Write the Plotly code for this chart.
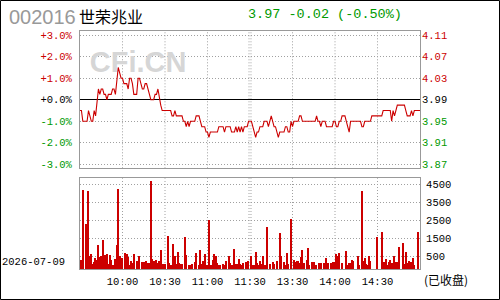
import plotly.graph_objects as go

PREV_CLOSE = 3.99
TITLE_CODE = "002016"
TITLE_NAME = "世荣兆业"
HEADER_QUOTE = "3.97 -0.02 (-0.50%)"
DATE_LABEL = "2026-07-09"
STATUS_LABEL = "(已收盘)"
WATERMARK = "CFi.CN"

# per-minute price (minute 0 .. 240)
PRICES = [
    3.97, 3.97, 3.95, 3.95, 3.95, 3.95, 3.97, 3.96, 3.95, 3.95,
    3.97, 3.96, 3.98, 4.01, 4.00, 4.01, 4.01, 4.00, 4.00, 3.99,
    4.00, 4.00, 4.00, 4.01, 4.01, 4.00, 4.03, 4.05, 4.04, 4.03,
    4.03, 4.02, 4.02, 4.02, 4.01, 4.03, 4.03, 4.02, 4.00, 4.00,
    4.00, 4.03, 4.03, 4.02, 4.01, 4.01, 4.02, 4.02, 4.01, 4.00,
    3.99, 3.99, 3.99, 4.00, 4.00, 4.01, 3.99, 3.98, 3.97, 3.97,
    3.97, 3.97, 3.97, 3.97, 3.97, 3.96, 3.96, 3.97, 3.96, 3.96,
    3.96, 3.96, 3.96, 3.95, 3.95, 3.94, 3.95, 3.94, 3.95, 3.95,
    3.95, 3.95, 3.96, 3.96, 3.96, 3.95, 3.94, 3.94, 3.94, 3.93,
    3.93, 3.92, 3.93, 3.93, 3.93, 3.93, 3.93, 3.93, 3.94, 3.94,
    3.94, 3.94, 3.93, 3.94, 3.94, 3.94, 3.94, 3.93, 3.93, 3.93,
    3.94, 3.93, 3.94, 3.93, 3.94, 3.93, 3.94, 3.94, 3.94, 3.95,
    3.95, 3.95, 3.94, 3.93, 3.92, 3.93, 3.93, 3.94, 3.94, 3.94,
    3.95, 3.95, 3.95, 3.94, 3.95, 3.96, 3.95, 3.94, 3.94, 3.93,
    3.92, 3.93, 3.93, 3.93, 3.93, 3.94, 3.94, 3.93, 3.93, 3.95,
    3.94, 3.95, 3.95, 3.95, 3.95, 3.96, 3.96, 3.95, 3.95, 3.95,
    3.95, 3.95, 3.95, 3.95, 3.95, 3.95, 3.95, 3.96, 3.95, 3.95,
    3.94, 3.95, 3.95, 3.95, 3.94, 3.94, 3.94, 3.94, 3.94, 3.95,
    3.95, 3.94, 3.94, 3.95, 3.95, 3.96, 3.96, 3.96, 3.95, 3.94,
    3.93, 3.95, 3.95, 3.95, 3.95, 3.95, 3.95, 3.95, 3.95, 3.94,
    3.94, 3.95, 3.95, 3.95, 3.95, 3.95, 3.96, 3.96, 3.96, 3.96,
    3.96, 3.96, 3.96, 3.96, 3.97, 3.97, 3.97, 3.97, 3.97, 3.97,
    3.95, 3.97, 3.96, 3.97, 3.98, 3.98, 3.98, 3.98, 3.98, 3.98,
    3.97, 3.96, 3.96, 3.96, 3.97, 3.96, 3.97, 3.97, 3.97, 3.97, 3.97,
]

# per-minute volume (minute 0 .. 240), 0 = no bar
VOLUME = [
    0, 300, 4190, 0, 2300, 0, 4130, 520, 630, 70,
    150, 390, 300, 1130, 430, 520, 1410, 110, 570, 610,
    70, 570, 300, 20, 20, 330, 1130, 4240, 480, 240,
    390, 0, 690, 630, 430, 20, 200, 110, 610, 0,
    240, 0, 520, 0, 170, 170, 110, 240, 110, 110,
    4650, 350, 240, 0, 300, 110, 240, 850, 0, 70,
    70, 0, 1630, 110, 20, 20, 1190, 480, 60, 720,
    110, 60, 60, 0, 1570, 570, 0, 20, 20, 60,
    0, 170, 690, 0, 20, 850, 70, 240, 610, 20,
    20, 2500, 20, 20, 280, 610, 480, 110, 20, 20,
    0, 60, 20, 240, 0, 480, 110, 20, 20, 910,
    60, 60, 350, 60, 20, 110, 0, 170, 20, 240,
    0, 480, 20, 20, 720, 110, 20, 240, 60, 520,
    0, 20, 2090, 0, 60, 0, 170, 60, 0, 240,
    0, 1780, 520, 0, 170, 20, 670, 60, 0, 2580,
    0, 300, 170, 240, 240, 110, 430, 850, 110, 0,
    300, 950, 20, 0, 170, 170, 0, 20, 0, 110,
    110, 0, 110, 20, 390, 110, 0, 110, 60, 170,
    170, 610, 520, 670, 0, 110, 0, 0, 800, 20,
    110, 110, 300, 240, 0, 0, 480, 20, 0, 4130,
    240, 390, 70, 20, 520, 240, 0, 0, 0, 0,
    1570, 0, 0, 1830, 0, 170, 350, 20, 170, 300,
    110, 110, 520, 170, 170, 1020, 0, 0, 1220, 60,
    720, 110, 240, 170, 170, 390, 20, 0, 0, 1830,
    0,
]

TIME_TICKS = [30, 60, 90, 120, 150, 180, 210]
TIME_LABELS = ["10:00", "10:30", "11:00", "11:30", "13:30", "14:00", "14:30"]
GRID_MINUTES = [30, 60, 90, 119.3, 120.7, 150, 180, 210]
PCT_TICKS = [3, 2, 1, 0, -1, -2, -3]
PCT_LABELS = ["+3.0%", "+2.0%", "+1.0%", "+0.0%", "-1.0%", "-2.0%", "-3.0%"]
PRICE_LABELS = ["4.11", "4.07", "4.03", "3.99", "3.95", "3.91", "3.87"]
VOL_TICKS = [500, 1500, 2500, 3500, 4500]
VOL_LABELS = ["500", "1500", "2500", "3500", "4500"]

RED = "#cc0000"
GREEN = "#009900"
GRID = "#a0a0a0"
FRAME = "#999999"
MONO = "Liberation Mono"

PCT_RANGE = [-3.19, 3.2]
VOL_RANGE = [-206, 4833]
VOL_BASE = VOL_RANGE[0]


def tick_color(p):
    return RED if p > 0 else (GREEN if p < 0 else "#000000")


minutes = list(range(len(PRICES)))
pct = [(p / PREV_CLOSE - 1) * 100 for p in PRICES]
bar_x = [m for m, v in enumerate(VOLUME) if v > 0]
bar_y = [v - VOL_BASE for v in VOLUME if v > 0]

fig = go.Figure()
# watermark (below line)
fig.add_trace(go.Scatter(x=[41], y=[1.61], mode="text", text=[WATERMARK],
                         textfont=dict(family="Liberation Sans", size=29, color="#d6d6d6", weight="bold"),
                         xaxis="x", yaxis="y", hoverinfo="skip", showlegend=False))
fig.add_trace(go.Scatter(x=minutes, y=pct, mode="lines", line=dict(color="rgba(0,0,0,0)", width=0),
                         xaxis="x", yaxis="y", hoverinfo="skip", showlegend=False))
fig.add_trace(go.Scatter(x=minutes, y=PRICES, mode="lines", line=dict(color=RED, width=1.1),
                         xaxis="x", yaxis="y2", showlegend=False))
fig.add_trace(go.Bar(x=bar_x, y=bar_y, base=VOL_BASE, width=0.85, marker=dict(color=RED, line=dict(width=0)),
                     xaxis="x2", yaxis="y3", showlegend=False))

price_range = [PREV_CLOSE * (1 + r / 100) for r in PCT_RANGE]
price_ticks = [PREV_CLOSE * (1 + p / 100) for p in PCT_TICKS]

axis_common = dict(showline=True, mirror=True, linecolor=FRAME, linewidth=1, ticks="",
                   griddash="1px,2px", gridcolor=GRID, gridwidth=1)

fig.update_layout(
    width=500, height=300,
    margin=dict(l=80, r=80, t=31, b=31),
    paper_bgcolor="white", plot_bgcolor="white",
    bargap=0,
    xaxis=dict(domain=[0, 1], range=[0, 240], showticklabels=False, showgrid=False,
               anchor="y", zeroline=False, **axis_common),
    yaxis=dict(domain=[0.4231, 1], range=PCT_RANGE, tickvals=PCT_TICKS,
               ticktext=[f"<span style='color:{tick_color(p)}'>{t}</span>" for p, t in zip(PCT_TICKS, PCT_LABELS)],
               tickfont=dict(family=MONO, size=10.5), showgrid=True, zeroline=True,
               zerolinecolor="#000000", zerolinewidth=1.2, anchor="x", ticklabelstandoff=5,
               **axis_common),
    yaxis2=dict(overlaying="y", side="right", range=price_range, tickvals=price_ticks,
                ticktext=[f"<span style='color:{tick_color(p)}'>{t}</span>" for p, t in zip(PCT_TICKS, PRICE_LABELS)],
                tickfont=dict(family=MONO, size=10.5), showgrid=False, zeroline=False,
                showline=False, ticks="", anchor="x", ticklabelstandoff=1),
    xaxis2=dict(domain=[0, 1], range=[0, 240], tickvals=TIME_TICKS, ticktext=TIME_LABELS,
                tickfont=dict(family=MONO, size=10.5, color="#000000"), showgrid=False,
                anchor="y3", zeroline=False, ticklabelstandoff=2, **axis_common),
    yaxis3=dict(domain=[0, 0.3811], range=VOL_RANGE, tickvals=VOL_TICKS, ticktext=VOL_LABELS,
                side="right", tickfont=dict(family=MONO, size=10.5, color="#000000"),
                showgrid=True, zeroline=False, anchor="x2", ticklabelstandoff=3, **axis_common),
)

shapes = []
for gm in GRID_MINUTES:
    for xr, yr in (("x", "y domain"), ("x2", "y3 domain")):
        shapes.append(dict(type="line", xref=xr, yref=yr, x0=gm, x1=gm, y0=0, y1=1,
                           line=dict(color=GRID, width=1, dash="1px,2px"), layer="below"))
# outer black frame
shapes.append(dict(type="rect", xref="paper", yref="paper",
                   x0=(0.5 - 80) / 340, x1=(499.5 - 80) / 340,
                   y0=(269 - 299.5) / 238, y1=(269 - 0.5) / 238,
                   line=dict(color="#000000", width=1), fillcolor="rgba(0,0,0,0)"))
fig.update_layout(shapes=shapes)


def px_x(px):
    return (px - 80) / 340


def px_y(py):
    return (269 - py) / 238


annotations = [
    dict(text=TITLE_CODE, x=px_x(7), y=px_y(17.5), xanchor="left", yanchor="middle",
         font=dict(family="Liberation Sans", size=20, color="#999999")),
    dict(text=TITLE_NAME, x=px_x(77), y=px_y(15.5), xanchor="left", yanchor="middle",
         font=dict(family="Noto Sans CJK SC", size=16, color="#000000")),
    dict(text=HEADER_QUOTE, x=px_x(246), y=px_y(14.7), xanchor="left", yanchor="middle",
         font=dict(family=MONO, size=13.5, color=GREEN)),
    dict(text=DATE_LABEL, x=px_x(67), y=px_y(262.3), xanchor="right", yanchor="middle",
         font=dict(family=MONO, size=10.5, color="#000000")),
    dict(text=STATUS_LABEL, x=px_x(422), y=px_y(279.3), xanchor="left", yanchor="middle",
         font=dict(family="Noto Sans CJK SC", size=12, color="#000000")),
]
for a in annotations:
    a.update(xref="paper", yref="paper", showarrow=False)
fig.update_layout(annotations=annotations)

fig.write_html("out.html")
